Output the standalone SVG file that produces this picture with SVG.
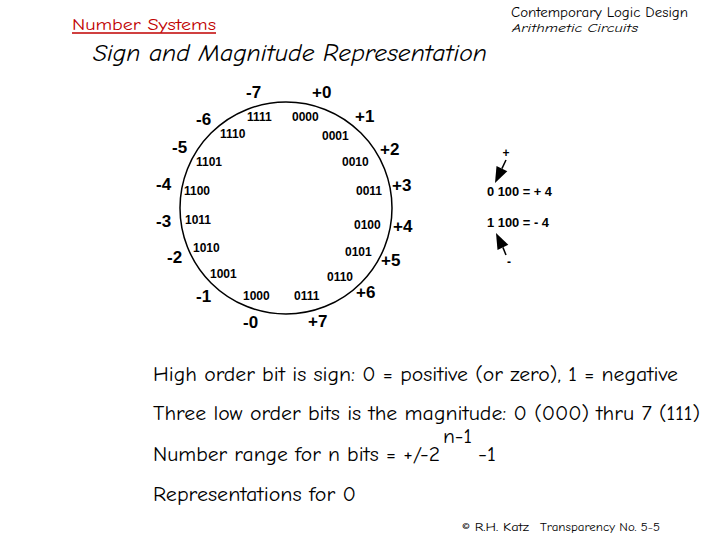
<svg xmlns="http://www.w3.org/2000/svg" width="720" height="540" viewBox="0 0 720 540">
<style>
.hand{font-family:"Comic Neue","Liberation Sans","DejaVu Sans",sans-serif;fill:#000}
.big{font-family:"Liberation Sans",Arial,sans-serif;font-weight:bold;font-size:17px;fill:#000}
.sm{font-family:"Liberation Sans",Arial,sans-serif;font-weight:bold;font-size:12px;fill:#000}
.body{font-family:"Comic Neue","Liberation Sans","DejaVu Sans",sans-serif;font-size:20px;fill:#000}
</style>
<rect width="720" height="540" fill="#fff"/>
<g id="header">
<text class="hand" x="72" y="30" font-size="16" style="fill:#c00000" textLength="144" lengthAdjust="spacingAndGlyphs">Number Systems</text>
<line x1="72" y1="33" x2="216" y2="33" stroke="#c00000" stroke-width="1.5"/>
<text class="hand" x="511" y="17" font-size="13" textLength="177" lengthAdjust="spacingAndGlyphs">Contemporary Logic Design</text>
<text class="hand" x="512" y="32" font-size="12" font-style="italic" textLength="126" lengthAdjust="spacingAndGlyphs">Arithmetic Circuits</text>
<text class="hand" x="93" y="61" font-size="24" font-style="italic" textLength="394" lengthAdjust="spacingAndGlyphs">Sign and Magnitude Representation</text>
</g>
<g id="wheel">
<circle cx="286" cy="208" r="106" fill="none" stroke="#000" stroke-width="1.5"/>
</g>
<g id="values">
<text class="big" x="246" y="98">-7</text>
<text class="big" x="312" y="98">+0</text>
<text class="big" x="196" y="125">-6</text>
<text class="big" x="355" y="122">+1</text>
<text class="big" x="172" y="153">-5</text>
<text class="big" x="380" y="155">+2</text>
<text class="big" x="156" y="190">-4</text>
<text class="big" x="392" y="191">+3</text>
<text class="big" x="156" y="227">-3</text>
<text class="big" x="393" y="232">+4</text>
<text class="big" x="167" y="263">-2</text>
<text class="big" x="381" y="266">+5</text>
<text class="big" x="196" y="302">-1</text>
<text class="big" x="356" y="298">+6</text>
<text class="big" x="243" y="328">-0</text>
<text class="big" x="308" y="327">+7</text>
</g>
<g id="codes">
<text class="sm" x="247" y="121">1111</text>
<text class="sm" x="292" y="121">0000</text>
<text class="sm" x="220" y="138">1110</text>
<text class="sm" x="322" y="140">0001</text>
<text class="sm" x="196" y="166">1101</text>
<text class="sm" x="342" y="166">0010</text>
<text class="sm" x="184" y="195">1100</text>
<text class="sm" x="356" y="195">0011</text>
<text class="sm" x="185" y="224">1011</text>
<text class="sm" x="354" y="229">0100</text>
<text class="sm" x="193" y="252">1010</text>
<text class="sm" x="345" y="256">0101</text>
<text class="sm" x="210" y="278">1001</text>
<text class="sm" x="327" y="281">0110</text>
<text class="sm" x="243" y="300">1000</text>
<text class="sm" x="294" y="300">0111</text>
</g>
<g id="sign-example">
<text class="sm" x="506" y="157" text-anchor="middle">+</text>
<text class="sm" x="487" y="196" textLength="65" lengthAdjust="spacingAndGlyphs">0 100 = + 4</text>
<text class="sm" x="487" y="227" textLength="62" lengthAdjust="spacingAndGlyphs">1 100 = - 4</text>
<text class="sm" x="509" y="266" text-anchor="middle">-</text>
</g>
<g id="connectors" stroke="#000" stroke-width="1.5" fill="#000">
<line x1="506" y1="160" x2="501.9" y2="168.6"/>
<polygon points="495,183 507.3,171.2 496.5,166" stroke="none"/>
<line x1="506" y1="255" x2="502.9" y2="247.4"/>
<polygon points="496,233 508.3,244.8 497.5,250" stroke="none"/>
</g>
<g id="notes">
<text class="body" x="153" y="381" textLength="525" lengthAdjust="spacingAndGlyphs">High order bit is sign: 0 = positive (or zero), 1 = negative</text>
<text class="body" x="153" y="420" textLength="547" lengthAdjust="spacingAndGlyphs">Three low order bits is the magnitude: 0 (000) thru 7 (111)</text>
<text class="body" x="153" y="461" textLength="287" lengthAdjust="spacingAndGlyphs">Number range for n bits = +/-2</text>
<text class="body" x="443" y="443" font-size="16" textLength="29" lengthAdjust="spacingAndGlyphs">n-1</text>
<text class="body" x="478" y="461" textLength="18" lengthAdjust="spacingAndGlyphs">-1</text>
<text class="body" x="153" y="501" textLength="203" lengthAdjust="spacingAndGlyphs">Representations for 0</text>
</g>
<g id="footer">
<text class="hand" x="462" y="531" font-size="12" textLength="67" lengthAdjust="spacingAndGlyphs">© R.H. Katz</text>
<text class="hand" x="540" y="531" font-size="12" textLength="120" lengthAdjust="spacingAndGlyphs">Transparency No. 5-5</text>
</g>
</svg>
